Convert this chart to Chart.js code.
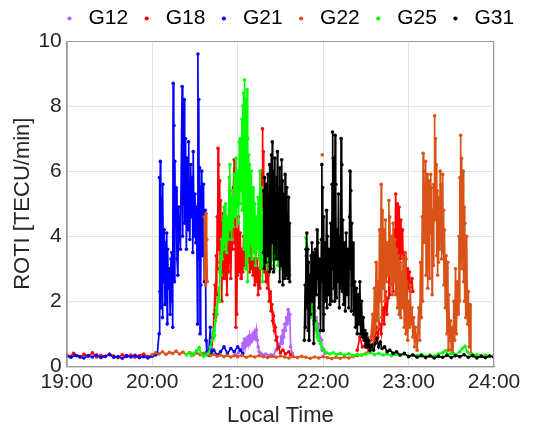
<!DOCTYPE html>
<html lang="en">
<head>
  <meta charset="UTF-8" />
  <title>ROTI</title>
  <script src="https://cdn.jsdelivr.net/npm/chart.js"></script>
  <style>
    html, body { margin: 0; padding: 0; background: #fff; }
    #wrap { position: relative; width: 539px; height: 425px; }
  </style>
</head>
<body>
  <div id="wrap"><canvas id="rotiChart"></canvas></div>

  <script>
    // satellite names (legend order)
    const sats = ['G12', 'G18', 'G21', 'G22', 'G25', 'G31'];
    const satColors = ['#b266ff', '#ff0000', '#0000ff', '#d95319', '#00ff00', '#000000'];

    // [local time (h), ROTI (TECU/min)]; [t, null] = gap in track
    const g12 = [
      [20.98,0.35],[21.01,0.42],[21.04,0.5],[21.06,0.7],[21.07,0.55],[21.08,0.85],[21.09,0.6],[21.10,0.8],
      [21.11,0.65],[21.12,0.9],[21.13,0.7],[21.14,0.95],[21.15,0.75],[21.16,0.9],[21.17,0.8],[21.18,1.0],
      [21.19,0.85],[21.20,1.05],[21.21,0.9],[21.22,1.12],[21.23,0.8],[21.24,0.6],[21.25,0.45],[21.27,0.4],
      [21.30,0.35],[21.33,0.38],[21.36,0.33],[21.39,0.36],[21.42,0.34],[21.45,0.5],[21.47,0.7],[21.49,0.6],
      [21.51,0.9],[21.52,0.7],[21.53,1.1],[21.54,0.9],[21.55,1.3],[21.56,1.1],[21.57,1.5],[21.58,1.3],
      [21.59,1.75],[21.60,1.4],[21.61,1.6],[21.62,0.6],[21.64,0.4],[21.70,null],
      [21.80,3.4],[21.805,2.6],[21.81,3.6],[21.815,2.2],[21.82,3.1],[21.83,2.0],[21.84,2.7],[21.85,1.8],
      [21.86,2.4],[21.87,1.6],[21.88,2.0],[21.89,1.4],[21.90,1.7],[21.91,1.2],[21.92,1.5],[21.93,1.0],
      [21.94,1.3],[21.95,0.9],[21.96,1.1],[21.97,0.7],[21.98,0.8],[21.99,0.5],[22.00,0.55],[22.02,0.4]
    ];

    const g18 = [
      [19.00,0.36],[19.04,0.30],[19.08,0.40],[19.12,0.33],[19.16,0.28],[19.20,0.37],[19.25,0.31],[19.30,0.42],
      [19.35,0.29],[19.40,0.34],[19.45,0.30],[19.50,0.38],[19.55,0.32],[19.60,0.27],[19.65,0.36],[19.70,0.30],
      [19.75,0.35],[19.80,0.28],[19.85,0.33],[19.90,0.38],[19.95,0.30],[20.00,0.34],[20.30,null],
      [20.69,0.40],[20.71,0.9],[20.725,1.6],[20.735,2.5],[20.74,1.5],[20.75,3.4],[20.755,2.2],[20.76,4.6],
      [20.765,3.0],[20.77,6.7],[20.775,3.6],[20.78,6.2],[20.785,4.1],[20.79,5.7],[20.795,3.2],[20.80,5.1],
      [20.805,2.9],[20.81,4.5],[20.815,2.0],[20.82,4.0],[20.825,2.7],[20.83,4.7],[20.835,2.8],[20.845,4.2],
      [20.855,2.7],[20.865,3.5],[20.875,2.2],[20.885,4.0],[20.895,2.9],[20.905,5.4],[20.91,3.2],[20.915,4.8],
      [20.92,2.7],[20.93,4.4],[20.94,3.6],[20.95,5.5],[20.96,6.35],[20.965,3.8],[20.97,5.6],[20.975,3.6],
      [20.98,1.2],[20.985,4.2],[20.99,1.6],[20.995,3.9],[21.00,2.8],[21.01,4.6],[21.02,2.9],[21.03,4.1],
      [21.04,2.7],[21.05,3.6],[21.06,2.9],[21.07,4.0],[21.08,3.1],[21.09,3.8],[21.10,3.0],[21.11,4.0],
      [21.12,3.2],[21.13,3.7],[21.14,2.9],[21.15,3.9],[21.16,3.0],[21.17,3.6],[21.18,2.8],[21.19,3.3],
      [21.20,2.5],[21.21,3.5],[21.22,2.6],[21.23,3.3],[21.24,2.2],[21.25,3.0],[21.26,2.4],[21.27,4.5],
      [21.275,3.0],[21.28,6.0],[21.285,3.5],[21.29,7.3],[21.295,4.0],[21.30,6.6],[21.305,3.4],[21.31,5.2],
      [21.315,2.9],[21.32,4.6],[21.33,2.6],[21.34,3.3],[21.35,2.4],[21.36,2.8],[21.37,2.0],[21.38,2.3],
      [21.39,1.7],[21.40,1.9],[21.41,1.4],[21.42,1.55],[21.43,1.1],[21.44,1.2],[21.45,0.8],[21.46,0.9],
      [21.47,0.55],[21.48,0.6],[21.50,0.42],[21.53,0.5],[21.56,0.38],[21.60,0.45],[21.62,0.35],[22.00,null],
      [22.40,0.5],[22.43,0.9],[22.46,0.6],[22.50,0.7],[22.53,0.55],[22.56,0.8],[22.58,1.1],[22.60,0.7],
      [22.62,1.2],[22.64,0.9],[22.66,1.3],[22.68,1.0],[22.70,1.8],[22.715,1.3],[22.73,2.3],[22.745,1.6],
      [22.76,2.1],[22.77,2.8],[22.78,2.2],[22.79,3.8],[22.80,2.6],[22.81,3.5],[22.82,2.3],[22.83,4.2],
      [22.84,2.8],[22.85,5.3],[22.855,3.0],[22.86,4.8],[22.865,2.4],[22.87,5.0],[22.88,3.4],[22.89,4.9],
      [22.90,3.3],[22.91,4.5],[22.92,3.5],[22.93,4.2],[22.94,2.9],[22.95,3.5],[22.96,2.2],[22.97,3.3],
      [22.98,2.0],[22.99,3.0],[23.00,2.4],[23.01,2.9],[23.02,2.3],[23.04,2.7],[23.05,2.3]
    ];

    const g21 = [
      [19.00,0.32],[19.05,0.28],[19.10,0.34],[19.15,0.30],[19.20,0.26],[19.25,0.33],[19.30,0.29],[19.35,0.35],
      [19.40,0.27],[19.45,0.31],[19.50,0.36],[19.55,0.28],[19.60,0.30],[19.65,0.25],[19.70,0.33],[19.75,0.29],
      [19.80,0.34],[19.85,0.27],[19.90,0.30],[19.95,0.26],[20.00,0.31],[20.04,0.35],[20.06,0.4],
      [20.08,1.0],[20.085,5.8],[20.09,2.3],[20.095,6.3],[20.10,1.8],[20.105,5.2],[20.11,3.0],[20.115,4.6],
      [20.12,1.5],[20.125,5.6],[20.13,2.6],[20.14,4.2],[20.15,1.9],[20.155,3.8],[20.16,2.2],[20.17,4.1],
      [20.175,1.3],[20.18,3.6],[20.19,2.4],[20.20,3.0],[20.21,1.6],[20.22,3.3],[20.225,2.0],[20.23,3.5],
      [20.24,1.2],[20.245,8.7],[20.25,4.0],[20.255,7.4],[20.26,2.6],[20.265,6.3],[20.27,4.5],[20.28,5.5],
      [20.29,3.3],[20.30,2.8],[20.31,4.9],[20.33,3.6],[20.35,8.6],[20.355,4.0],[20.36,7.6],[20.37,5.0],
      [20.375,8.2],[20.38,4.4],[20.39,7.0],[20.40,3.6],[20.41,6.4],[20.42,4.2],[20.425,6.9],[20.43,5.2],
      [20.44,3.9],[20.45,6.2],[20.46,4.6],[20.47,5.8],[20.475,3.5],[20.48,6.6],[20.49,4.0],[20.50,5.3],
      [20.51,3.8],[20.52,4.9],[20.53,1.3],[20.535,9.6],[20.54,5.0],[20.545,8.2],[20.55,3.3],[20.555,6.1],
      [20.56,1.0],[20.565,5.5],[20.57,2.5],[20.58,6.0],[20.59,3.4],[20.60,5.6],[20.61,2.6],[20.62,4.8],
      [20.63,0.8],[20.64,0.45],[20.66,0.35],[20.68,1.2],[20.69,0.4],[20.72,0.5],[20.76,0.35],[20.80,0.45],
      [20.84,0.6],[20.88,0.4],[20.92,0.55],[20.96,0.45],[21.00,0.6],[21.03,0.5],[21.06,0.4]
    ];

    const g22 = [
      [20.00,0.36],[20.04,0.42],[20.08,0.38],[20.12,0.45],[20.16,0.37],[20.20,0.43],[20.24,0.40],[20.28,0.47],
      [20.32,0.38],[20.36,0.44],[20.40,0.36],[20.44,0.42],[20.48,0.35],[20.52,0.41],[20.56,0.36],[20.60,0.40],
      [20.605,null],
      [20.61,4.6],[20.615,2.7],[20.62,4.2],[20.625,2.5],[20.63,4.7],[20.635,3.0],[20.64,3.9],[20.645,2.6],
      [20.65,null],
      [20.64,0.36],[20.68,0.33],[20.72,0.37],[20.76,0.31],[20.80,0.35],[20.84,0.30],[20.88,0.34],[20.92,0.29],
      [20.96,0.33],[21.00,0.30],[21.05,0.34],[21.10,0.28],[21.15,0.32],[21.20,0.29],[21.25,0.33],[21.30,0.30],
      [21.35,0.27],[21.40,0.31],[21.45,0.28],[21.50,0.32],[21.55,0.29],[21.60,0.26],[21.65,0.30],[21.70,0.27],
      [21.75,0.31],[21.80,0.28],[21.85,0.25],[21.90,0.29],[21.95,0.26],[22.00,0.30],[22.05,0.27],[22.10,0.24],
      [22.15,0.28],[22.20,0.25],[22.25,0.29],[22.30,0.26],[22.35,0.30],[22.40,0.33],[22.45,0.35],[22.50,0.40],
      [22.54,0.5],[22.56,0.9],[22.58,1.6],[22.59,0.7],[22.60,2.4],[22.61,1.1],[22.62,3.2],[22.63,1.4],
      [22.64,2.6],[22.65,1.2],[22.66,4.2],[22.67,2.0],[22.68,5.6],
      [22.685,1.5],[22.69,4.8],[22.70,2.4],[22.71,4.2],[22.72,2.0],[22.73,4.5],[22.74,2.6],[22.75,3.8],
      [22.76,2.8],[22.77,5.1],[22.775,3.0],[22.78,4.6],[22.79,2.5],[22.80,4.0],[22.81,2.2],[22.82,4.4],
      [22.83,2.6],[22.84,3.9],[22.85,2.2],[22.86,3.6],[22.87,1.8],[22.88,3.4],[22.89,1.6],[22.90,3.2],
      [22.91,1.5],[22.92,2.9],[22.93,1.8],[22.94,3.3],[22.95,1.2],[22.96,3.5],[22.97,1.0],[22.98,2.6],
      [22.99,0.8],[23.00,2.0],[23.01,1.2],[23.02,2.5],[23.03,1.3],[23.04,1.8],[23.05,0.9],[23.06,1.5],
      [23.07,0.6],[23.08,1.2],[23.10,0.5],[23.12,1.8],[23.13,0.8],[23.14,3.2],[23.15,1.5],[23.16,4.6],
      [23.165,2.0],[23.17,6.55],[23.175,3.8],[23.18,6.0],[23.185,4.2],[23.19,5.6],[23.195,3.9],[23.20,6.3],
      [23.205,2.8],[23.21,5.4],[23.215,4.0],[23.22,5.9],[23.225,2.4],[23.23,5.2],[23.235,4.3],[23.24,5.7],
      [23.245,2.7],[23.25,5.0],[23.255,4.1],[23.26,5.9],[23.265,4.4],[23.27,5.5],[23.275,2.2],[23.28,4.8],
      [23.29,3.1],[23.295,5.6],[23.30,4.5],[23.305,7.7],[23.31,4.8],[23.315,7.0],[23.32,4.6],[23.325,6.2],
      [23.33,3.4],[23.335,5.4],[23.34,2.8],[23.345,4.5],[23.35,3.2],[23.36,5.2],[23.365,3.6],[23.37,6.0],
      [23.375,4.0],[23.38,5.6],[23.385,3.3],[23.39,5.0],[23.395,4.2],[23.40,5.9],[23.405,3.5],[23.41,4.8],
      [23.415,2.5],[23.42,4.2],[23.43,1.8],[23.44,3.4],[23.45,1.0],[23.46,3.2],[23.465,0.5],[23.47,2.2],
      [23.48,0.8],[23.49,1.4],[23.50,0.5],[23.51,1.2],[23.52,0.4],[23.53,2.0],[23.54,0.8],[23.55,3.0],
      [23.56,1.0],[23.57,2.6],[23.58,1.6],[23.59,4.0],[23.595,2.0],[23.60,5.8],[23.605,3.4],[23.61,7.1],
      [23.615,3.6],[23.62,6.4],[23.625,3.0],[23.63,5.6],[23.635,3.3],[23.64,6.0],[23.645,2.6],[23.65,4.9],
      [23.655,2.0],[23.66,4.4],[23.67,1.5],[23.68,4.0],[23.69,1.3],[23.70,2.3],[23.71,0.6],[23.72,1.9],
      [23.73,0.4],[23.75,0.35],[23.80,0.30],[23.85,0.33],[23.90,0.29],[23.95,0.32],[24.00,0.30],
      [24.00,null],[21.99,6.5]
    ];

    const g25 = [
      [20.40,0.36],[20.43,0.42],[20.46,0.33],[20.49,0.40],[20.52,0.48],[20.55,0.58],[20.57,0.40],[20.60,0.31],
      [20.63,0.35],[20.66,0.42],[20.68,0.6],[20.70,0.8],[20.72,1.1],[20.73,0.95],[20.74,1.4],[20.75,1.8],
      [20.76,1.6],[20.77,2.1],[20.78,2.4],[20.785,2.0],[20.79,2.9],[20.80,3.4],[20.805,2.8],[20.81,3.9],
      [20.82,3.3],[20.83,4.5],[20.835,3.6],[20.84,4.9],[20.85,3.8],[20.86,5.0],[20.87,3.5],[20.88,4.6],
      [20.89,3.9],[20.90,5.8],[20.905,4.2],[20.91,6.2],[20.915,4.5],[20.92,5.4],[20.93,3.9],[20.94,5.2],
      [20.95,4.3],[20.96,5.9],[20.97,4.6],[20.98,6.4],[20.99,4.9],[21.00,6.0],[21.01,4.4],[21.02,6.9],
      [21.025,5.0],[21.03,7.0],[21.04,5.4],[21.05,7.6],[21.055,4.8],[21.06,8.0],[21.065,5.6],[21.07,8.4],
      [21.075,3.6],[21.08,8.8],[21.085,5.0],[21.09,8.2],[21.095,3.0],[21.10,7.4],[21.105,4.4],[21.11,8.5],
      [21.115,2.6],[21.12,7.0],[21.125,4.0],[21.13,6.5],[21.135,3.4],[21.14,6.2],[21.15,3.8],[21.16,6.0],
      [21.17,3.3],[21.18,5.5],[21.19,3.5],[21.20,5.0],[21.21,3.1],[21.22,4.6],[21.23,3.6],[21.24,5.2],
      [21.25,3.3],[21.26,6.0],[21.27,3.0],[21.28,5.5],[21.29,2.6],[21.30,4.8],[21.31,3.4],[21.32,5.4],
      [21.33,3.0],[21.34,4.6],[21.35,3.2],[21.36,4.4],[21.37,3.4],[21.38,4.8],[21.39,3.1],[21.40,4.2],
      [21.41,3.3],[21.42,4.5],[21.43,3.0],[21.44,4.0],[21.45,3.4],[21.46,4.6],[21.47,3.1],[21.48,4.1],
      [21.49,3.3],[21.50,4.4],[21.51,3.0],[21.52,4.0],[21.53,3.2],[21.54,4.5],[21.55,2.9],[21.56,4.2],
      [21.57,3.0],[21.58,4.5],[21.59,3.1],[21.60,3.8],[21.61,2.8],[21.70,null],
      [21.80,3.95],[21.805,2.2],[21.81,3.7],[21.815,1.8],[21.82,3.2],[21.83,1.9],[21.84,2.6],[21.85,1.5],
      [21.86,2.4],[21.87,1.6],[21.88,2.0],[21.89,1.3],[21.90,1.7],[21.91,1.1],[21.92,1.4],[21.93,0.9],
      [21.94,1.1],[21.95,0.8],[21.97,0.7],[21.99,0.55],[22.01,0.5],[22.04,0.42],[22.08,0.38],[22.12,0.42],
      [22.16,0.36],[22.20,0.40],[22.25,0.35],[22.30,0.39],[22.35,0.33],[22.40,0.37],[22.45,0.34],[22.50,0.38],
      [22.55,0.42],[22.60,0.36],[22.65,0.40],[22.70,0.35],[22.75,0.38],[22.80,0.33],[22.85,0.37],[22.90,0.34],
      [22.95,0.38],[23.00,0.32],[23.05,0.36],[23.10,0.33],[23.15,0.37],[23.20,0.31],[23.25,0.35],[23.30,0.32],
      [23.35,0.38],[23.40,0.42],[23.43,0.48],[23.46,0.36],[23.50,0.40],[23.55,0.35],[23.60,0.45],[23.63,0.55],
      [23.66,0.62],[23.69,0.45],[23.72,0.38],[23.76,0.33],[23.80,0.36],[23.85,0.32],[23.90,0.35],[23.95,0.31],
      [24.00,0.34]
    ];

    const g31 = [
      [21.30,3.5],[21.305,5.4],[21.31,3.0],[21.315,5.8],[21.32,3.9],[21.325,5.2],[21.33,3.2],[21.335,5.6],
      [21.34,4.0],[21.345,4.8],[21.35,3.4],[21.355,5.9],[21.36,3.6],[21.365,5.0],[21.37,2.9],[21.375,6.2],
      [21.38,4.2],[21.385,5.4],[21.39,3.0],[21.395,6.5],[21.40,3.8],[21.405,6.9],[21.41,4.5],[21.415,6.0],
      [21.42,2.9],[21.425,5.6],[21.43,3.5],[21.435,6.4],[21.44,4.1],[21.445,5.2],[21.45,3.3],[21.455,5.8],
      [21.46,3.7],[21.465,6.6],[21.47,4.4],[21.475,5.1],[21.48,3.3],[21.485,5.5],[21.49,2.6],[21.495,6.1],
      [21.50,3.9],[21.505,5.0],[21.51,3.1],[21.515,6.35],[21.52,4.2],[21.525,5.7],[21.53,2.5],[21.535,5.3],
      [21.54,3.6],[21.545,4.9],[21.55,2.7],[21.555,5.9],[21.56,3.4],[21.565,4.7],[21.57,2.8],[21.575,5.5],
      [21.58,3.2],[21.585,4.6],[21.59,2.7],[21.595,5.2],[21.60,3.0],[21.605,4.4],[21.61,2.6],[21.70,null],
      [21.78,0.8],[21.79,2.5],[21.795,1.2],[21.80,3.6],[21.805,1.8],[21.81,4.1],[21.815,2.4],[21.82,3.6],
      [21.825,1.1],[21.83,3.2],[21.835,0.8],[21.84,2.8],[21.85,1.6],[21.86,3.4],[21.865,2.0],[21.87,3.8],
      [21.88,2.6],[21.885,3.5],[21.89,0.7],[21.895,3.0],[21.90,1.4],[21.91,3.6],[21.92,2.2],[21.93,4.2],
      [21.935,2.7],[21.94,3.8],[21.95,1.8],[21.96,3.3],[21.97,1.1],[21.98,3.9],[21.985,6.2],[21.99,2.6],
      [21.995,5.5],[22.00,1.1],[22.005,4.6],[22.01,1.6],[22.02,3.8],[22.03,2.0],[22.04,4.8],[22.045,1.8],
      [22.05,4.0],[22.06,2.2],[22.07,3.6],[22.08,1.9],[22.09,4.4],[22.10,2.0],[22.105,5.6],[22.11,7.2],
      [22.115,3.0],[22.12,6.4],[22.125,2.4],[22.13,5.0],[22.135,2.0],[22.14,7.1],[22.145,3.3],[22.15,5.6],
      [22.155,2.1],[22.16,4.2],[22.17,2.6],[22.18,5.3],[22.19,1.8],[22.20,4.0],[22.205,2.4],[22.21,7.0],
      [22.215,3.0],[22.22,6.2],[22.225,2.3],[22.23,4.5],[22.24,1.9],[22.25,3.8],[22.26,1.7],[22.27,4.1],
      [22.28,2.2],[22.29,3.6],[22.30,1.8],[22.31,4.6],[22.315,6.0],[22.32,3.0],[22.325,5.4],[22.33,1.7],
      [22.335,4.4],[22.34,2.5],[22.35,3.8],[22.36,1.6],[22.37,2.6],[22.38,1.2],[22.39,2.4],[22.40,1.0],
      [22.41,2.2],[22.42,1.3],[22.43,2.6],[22.44,1.0],[22.45,2.0],[22.46,0.9],[22.47,1.5],[22.48,0.8],
      [22.49,1.1],[22.50,0.6],[22.51,1.0],[22.52,0.6],[22.53,0.8],[22.55,0.5],[22.57,0.65],[22.59,0.5],
      [22.61,0.7],[22.63,0.85],[22.65,0.6],[22.67,0.75],[22.69,0.55],[22.72,0.6],[22.75,0.45],[22.78,0.5],
      [22.82,0.4],[22.86,0.45],[22.90,0.35],[22.95,0.4],[23.00,0.30],[23.05,0.35],[23.10,0.28],[23.15,0.33],
      [23.20,0.27],[23.25,0.32],[23.30,0.26],[23.35,0.31],[23.40,0.28],[23.45,0.34],[23.50,0.27],[23.55,0.33],
      [23.60,0.30],[23.65,0.36],[23.70,0.28],[23.75,0.33],[23.80,0.26],[23.85,0.31],[23.90,0.27],[23.95,0.32],
      [24.00,0.28]
    ];

    const series = [g12, g18, g21, g22, g25, g31];

    // box around the plot area, like the matlab axes
    const frame = {
      id: 'frame',
      afterDatasetsDraw(chart) {
        const { ctx, chartArea: a } = chart;
        ctx.save();
        ctx.strokeStyle = '#9a9a9a';
        ctx.lineWidth = 1;
        ctx.strokeRect(a.left + 0.5, a.top + 0.5, a.right - a.left - 1, a.bottom - a.top);
        ctx.restore();
      }
    };

    // legend row starts over the plot's left edge in the original
    const legendShift = {
      id: 'legendShift',
      afterLayout(chart) {
        chart.legend.left = 51;
        chart.legend.top -= 2;
      }
    };

    const tickFont = { family: "'Liberation Sans', Arial, sans-serif", size: 21 };
    const titleFont = { family: "'Liberation Sans', Arial, sans-serif", size: 22 };

    new Chart(document.getElementById('rotiChart'), {
      type: 'scatter',
      data: {
        datasets: sats.map((name, i) => ({
          label: name,
          data: series[i],
          showLine: true,
          spanGaps: false,
          borderColor: satColors[i],
          backgroundColor: satColors[i],
          borderWidth: 1.7,
          pointRadius: 1.8,
          pointBorderWidth: 0,
          pointHoverRadius: 0,
          order: sats.length - i
        }))
      },
      options: {
        responsive: true,
        maintainAspectRatio: false,
        animation: false,
        layout: { padding: { left: 10, right: 0, top: 0, bottom: 0 } },
        plugins: {
          tooltip: { enabled: false },
          legend: {
            position: 'top',
            align: 'start',
            labels: {
              font: tickFont,
              color: '#000',
              usePointStyle: true,
              pointStyle: 'circle',
              boxWidth: 17,
              boxHeight: 3,
              padding: 10,
              sort: (a, b) => a.datasetIndex - b.datasetIndex
            }
          }
        },
        scales: {
          x: {
            type: 'linear',
            min: 19,
            max: 24,
            afterFit: s => { s.paddingRight = 45; },
            ticks: {
              stepSize: 1,
              font: tickFont,
              color: '#262626',
              padding: 3,
              callback: v => v + ':00'
            },
            grid: { color: '#e3e3e3', drawTicks: false },
            border: { color: '#9a9a9a' },
            title: { display: true, text: 'Local Time', font: titleFont, color: '#262626', padding: { top: 5, bottom: -4 } }
          },
          y: {
            min: 0,
            max: 10,
            ticks: { stepSize: 2, font: tickFont, color: '#262626', padding: 5 },
            grid: { color: '#e3e3e3', drawTicks: false },
            border: { color: '#9a9a9a' },
            title: { display: true, text: 'ROTI [TECU/min]', font: titleFont, color: '#262626', padding: { top: 0, bottom: -3 } }
          }
        }
      },
      plugins: [frame, legendShift]
    });
  </script>
</body>
</html>
